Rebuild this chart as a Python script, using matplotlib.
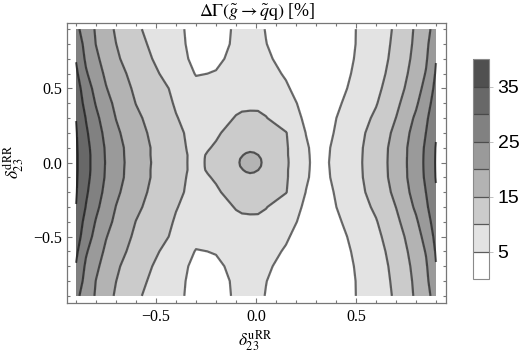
import matplotlib
matplotlib.use("Agg")
import matplotlib.pyplot as plt
from matplotlib.ticker import FixedLocator, MultipleLocator, FuncFormatter
import numpy as np

plt.rcParams["font.family"] = ["Liberation Serif", "DejaVu Serif"]
plt.rcParams["mathtext.fontset"] = "stix"

# grid nodes (delta_23^uRR across, delta_23^dRR up), values in percent
X_NODES = [-0.9, -0.85, -0.8, -0.75, -0.7, -0.6, -0.5, -0.4, -0.3, -0.2, -0.1, -0.07, -0.05,
           -0.03, -0.01, 0.01, 0.05, 0.15, 0.25, 0.32, 0.4, 0.5, 0.6, 0.7, 0.8, 0.85, 0.9]
Y_NODES = [-0.9, -0.8, -0.7, -0.6, -0.5, -0.4, -0.3, -0.2, -0.1, -0.075, -0.05, -0.025, 0.0,
           0.025, 0.05, 0.075, 0.1, 0.2, 0.3, 0.4, 0.5, 0.6, 0.7, 0.8, 0.9]

DELTA_GAMMA = [
    [26.2, 22.75, 19.5, 16.8, 14.45, 10.75, 8.2, 6.0, 3.6, 3.8, 5.4, 5.6, 5.65, 5.7, 5.62, 5.5, 4.9, 3.7, 2.7, 2.5, 2.7, 5.02, 7.7, 10.6, 15.7, 18.65, 21.7],
    [28.0, 23.5, 19.9, 17.55, 15.05, 11.6, 8.7, 6.2, 3.7, 3.9, 5.5, 5.7, 5.75, 5.8, 5.72, 5.6, 5.05, 3.9, 2.8, 2.6, 2.8, 5.05, 7.8, 10.9, 16.0, 19.0, 23.2],
    [29.7, 24.2, 20.9, 18.2, 15.7, 12.4, 9.45, 6.6, 4.0, 4.5, 5.7, 5.9, 5.95, 6.0, 5.92, 5.8, 5.4, 4.2, 3.0, 2.7, 2.9, 5.25, 8.0, 11.25, 16.5, 19.4, 24.8],
    [31.0, 25.55, 22.1, 19.2, 16.85, 13.3, 10.5, 7.55, 4.8, 5.15, 6.4, 6.6, 6.65, 6.7, 6.67, 6.6, 6.1, 4.67, 3.2, 2.8, 3.0, 5.67, 8.3, 11.9, 17.2, 20.3, 25.5],
    [32.3, 27.4, 23.4, 20.25, 18.0, 14.1, 11.4, 9.2, 6.1, 6.8, 7.8, 8.0, 8.05, 8.1, 8.02, 7.9, 7.3, 5.4, 3.3, 3.0, 3.5, 6.2, 8.9, 12.8, 18.0, 21.6, 26.3],
    [33.6, 28.3, 24.7, 21.6, 19.0, 14.9, 12.2, 9.6, 8.2, 8.0, 8.8, 9.1, 9.2, 9.3, 9.27, 9.2, 8.6, 6.2, 4.0, 3.4, 4.22, 7.0, 9.7, 13.9, 19.3, 23.0, 27.2],
    [34.9, 29.8, 26.0, 22.9, 19.9, 15.98, 12.9, 10.2, 8.3, 7.9, 10.3, 10.7, 10.7, 10.7, 10.72, 10.75, 10.2, 7.4, 4.32, 3.3, 4.95, 7.75, 10.8, 15.05, 20.8, 24.2, 28.3],
    [35.4, 30.7, 27.1, 23.8, 20.9, 16.8, 13.6, 11.0, 8.5, 9.4, 11.8, 12.45, 12.55, 12.6, 12.58, 12.5, 11.9, 10.2, 4.9, 3.2, 5.32, 8.4, 11.85, 16.1, 21.9, 25.05, 29.6],
    [35.6, 31.4, 27.8, 24.5, 21.7, 17.4, 14.1, 11.45, 8.6, 10.5, 12.8, 13.6, 14.2, 14.4, 14.3, 14.2, 13.55, 10.5, 5.52, 3.1, 6.08, 8.8, 12.3, 16.8, 22.5, 25.7, 30.25],
    [35.65, 31.5, 27.9, 24.55, 21.75, 17.4, 14.1, 11.47, 8.75, 10.9, 13.5, 14.2, 14.65, 14.89, 14.76, 14.4, 13.8, 10.5, 5.6, 3.05, 6.2, 8.82, 12.35, 16.82, 22.52, 25.78, 30.3],
    [35.7, 31.6, 28.0, 24.6, 21.8, 17.4, 14.1, 11.5, 8.9, 11.3, 14.1, 14.83, 15.43, 15.67, 15.54, 15.05, 14.0, 10.5, 5.7, 3.0, 6.33, 8.85, 12.4, 16.85, 22.55, 25.85, 30.35],
    [35.7, 31.6, 28.0, 24.65, 21.85, 17.45, 14.15, 11.55, 8.85, 11.5, 14.35, 15.3, 15.9, 16.14, 16.0, 15.52, 14.12, 10.6, 5.75, 3.0, 6.45, 8.88, 12.42, 16.88, 22.58, 25.88, 30.38],
    [35.7, 31.6, 28.0, 24.7, 21.9, 17.5, 14.2, 11.6, 8.8, 11.6, 14.4, 15.46, 16.06, 16.3, 16.17, 15.68, 14.17, 10.64, 5.8, 3.0, 6.56, 8.9, 12.45, 16.9, 22.6, 25.9, 30.4],
    [35.7, 31.6, 28.0, 24.65, 21.85, 17.45, 14.15, 11.55, 8.85, 11.5, 14.35, 15.3, 15.9, 16.14, 16.0, 15.52, 14.12, 10.6, 5.75, 3.0, 6.45, 8.88, 12.42, 16.88, 22.58, 25.88, 30.38],
    [35.7, 31.6, 28.0, 24.6, 21.8, 17.4, 14.1, 11.5, 8.9, 11.3, 14.1, 14.83, 15.43, 15.67, 15.54, 15.05, 14.0, 10.5, 5.7, 3.0, 6.33, 8.85, 12.4, 16.85, 22.55, 25.85, 30.35],
    [35.65, 31.5, 27.9, 24.55, 21.75, 17.4, 14.1, 11.47, 8.75, 10.9, 13.5, 14.2, 14.65, 14.89, 14.76, 14.4, 13.8, 10.5, 5.6, 3.05, 6.2, 8.82, 12.35, 16.82, 22.52, 25.78, 30.3],
    [35.6, 31.4, 27.8, 24.5, 21.7, 17.4, 14.1, 11.45, 8.6, 10.5, 12.8, 13.6, 14.2, 14.4, 14.3, 14.2, 13.55, 10.5, 5.52, 3.1, 6.08, 8.8, 12.3, 16.8, 22.5, 25.7, 30.25],
    [35.4, 30.7, 27.1, 23.8, 20.9, 16.8, 13.6, 11.0, 8.5, 9.4, 11.8, 12.45, 12.55, 12.6, 12.58, 12.5, 11.9, 10.2, 4.9, 3.2, 5.32, 8.4, 11.85, 16.1, 21.9, 25.05, 29.6],
    [34.9, 29.8, 26.0, 22.9, 19.9, 15.98, 12.9, 10.2, 8.3, 7.9, 10.3, 10.7, 10.7, 10.7, 10.72, 10.75, 10.2, 7.4, 4.32, 3.3, 4.95, 7.75, 10.8, 15.05, 20.8, 24.2, 28.3],
    [33.6, 28.3, 24.7, 21.6, 19.0, 14.9, 12.2, 9.6, 8.2, 8.0, 8.8, 9.1, 9.2, 9.3, 9.27, 9.2, 8.6, 6.2, 4.0, 3.4, 4.22, 7.0, 9.7, 13.9, 19.3, 23.0, 27.2],
    [32.3, 27.4, 23.4, 20.25, 18.0, 14.1, 11.4, 9.2, 6.1, 6.8, 7.8, 8.0, 8.05, 8.1, 8.02, 7.9, 7.3, 5.4, 3.3, 3.0, 3.5, 6.2, 8.9, 12.8, 18.0, 21.6, 26.3],
    [31.0, 25.55, 22.1, 19.2, 16.85, 13.3, 10.5, 7.55, 4.8, 5.15, 6.4, 6.6, 6.65, 6.7, 6.67, 6.6, 6.1, 4.67, 3.2, 2.8, 3.0, 5.67, 8.3, 11.9, 17.2, 20.3, 25.5],
    [29.7, 24.2, 20.9, 18.2, 15.7, 12.4, 9.45, 6.6, 4.0, 4.5, 5.7, 5.9, 5.95, 6.0, 5.92, 5.8, 5.4, 4.2, 3.0, 2.7, 2.9, 5.25, 8.0, 11.25, 16.5, 19.4, 24.8],
    [28.0, 23.5, 19.9, 17.55, 15.05, 11.6, 8.7, 6.2, 3.7, 3.9, 5.5, 5.7, 5.75, 5.8, 5.72, 5.6, 5.05, 3.9, 2.8, 2.6, 2.8, 5.05, 7.8, 10.9, 16.0, 19.0, 23.2],
    [26.2, 22.75, 19.5, 16.8, 14.45, 10.75, 8.2, 6.0, 3.6, 3.8, 5.4, 5.6, 5.65, 5.7, 5.62, 5.5, 4.9, 3.7, 2.7, 2.5, 2.7, 5.02, 7.7, 10.6, 15.7, 18.65, 21.7],
]

LEVELS = [0, 5, 10, 15, 20, 25, 30, 35, 40]
FILLS = ["#ffffff", "#e3e3e3", "#cbcbcb", "#b3b3b3",
         "#9a9a9a", "#818181", "#686868", "#505050"]
CBAR_TICKS = [5, 15, 25, 35]
MAJOR_TICKS = [-0.5, 0.0, 0.5]

W, H = 527, 358
fig = plt.figure(figsize=(W / 100, H / 100), dpi=100)
ax = fig.add_axes([67 / W, 1 - 303 / H, (446 - 67) / W, (303 - 22.5) / H])

xx, yy = np.meshgrid(X_NODES, Y_NODES)
zz = np.array(DELTA_GAMMA)

cf = ax.contourf(xx, yy, zz, levels=LEVELS, colors=FILLS)
ax.contour(xx, yy, zz, levels=LEVELS[1:-1], colors="black", alpha=0.55, linewidths=1.6)

ax.set_xlim(-0.945, 0.95)
ax.set_ylim(-0.948, 0.945)

fmt = FuncFormatter(lambda v, _: f"{v:.1f}".replace("-", "\u2212"))
for axis in (ax.xaxis, ax.yaxis):
    axis.set_major_locator(FixedLocator(MAJOR_TICKS))
    axis.set_minor_locator(MultipleLocator(0.1))
    axis.set_major_formatter(fmt)

ax.tick_params(which="both", direction="in", top=True, right=True,
               color="#777777", width=0.8, labelsize=11.5)
ax.tick_params(which="major", length=3.5)
ax.tick_params(which="minor", length=2.0)
ax.tick_params(axis="x", pad=4)
ax.tick_params(axis="y", pad=3.5)
for sp in ax.spines.values():
    sp.set_edgecolor("#777777")
    sp.set_linewidth(0.9)

fig.text(257 / W, 1 - 11 / H,
         r"$\Delta\Gamma(\tilde{g} \rightarrow \tilde{q}\mathrm{q})$ [%]",
         ha="center", va="center", fontsize=13)
fig.text(255 / W, 1 - 341 / H, r"$\delta_{23}^{\mathrm{uRR}}$",
         ha="center", va="center", fontsize=12.5)
fig.text(14 / W, 1 - 162 / H, r"$\delta_{23}^{\mathrm{dRR}}$",
         ha="center", va="center", rotation=90, fontsize=12.5)

# colour legend
cax = fig.add_axes([472.7 / W, 1 - 279.3 / H, 16.6 / W, 220 / H])
cb = fig.colorbar(cf, cax=cax, ticks=CBAR_TICKS)
cb.minorticks_off()
cb.outline.set_edgecolor("#8a8a8a")
cb.outline.set_linewidth(0.8)
for lvl in LEVELS[1:-1]:
    cax.axhline(lvl, color="#404040", lw=0.9, alpha=0.85)
cax.tick_params(length=3, width=0.7, color="#c0c0c0", labelsize=14, pad=3,
                labelfontfamily="Liberation Sans")

fig.savefig("out.png", dpi=100)
